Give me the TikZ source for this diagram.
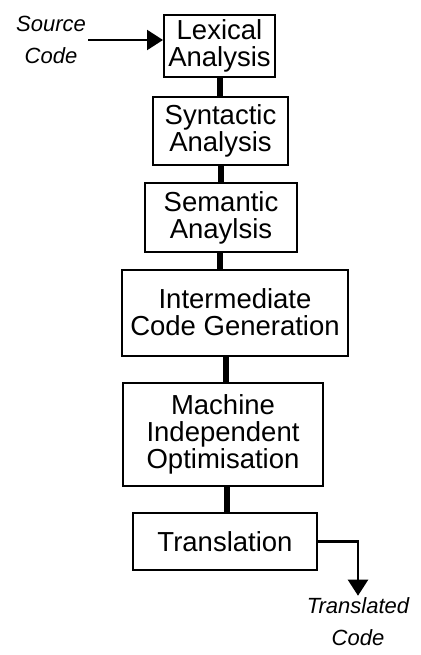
\documentclass[tikz,border=0pt]{standalone}
\usepackage{fontspec}
\setmainfont{Liberation Sans}
\usetikzlibrary{calc,arrows.meta}

\begin{document}
\begin{tikzpicture}[x=1pt,y=-1pt,
    stage/.style={draw, line width=2pt, align=center, inner sep=0pt,
      font=\fontsize{27.5}{27}\selectfont},
    bar/.style={line width=6pt},
    flow/.style={line width=2.2pt, -{Triangle[length=16pt,width=20pt]}},
    ext/.style={align=center, inner sep=2pt,
      font=\fontsize{22}{32}\selectfont\itshape}]
  \useasboundingbox (0,0) rectangle (420,655);

  % The phases, top to bottom
  \node[stage, minimum width=111pt, minimum height=62pt] (lex) at (219.5,46) {Lexical\\Analysis};
  \node[stage, minimum width=135pt, minimum height=68pt] (syn) at (220.5,131) {Syntactic\\Analysis};
  \node[stage, minimum width=152pt, minimum height=69pt] (sem) at (221,217.5) {Semantic\\Anaylsis};
  \node[stage, minimum width=226pt, minimum height=86pt] (inter) at (235,312.5) {Intermediate\\Code Generation};
  \node[stage, minimum width=200pt, minimum height=103pt] (mach) at (223,434.5) {Machine\\Independent\\Optimisation};
  \node[stage, minimum width=184pt, minimum height=57pt] (trans) at (225,541.5) {Translation};

  % Input and output
  \node[ext] (src) at (51,40) {Source\\Code};
  \node[ext] (out) at (358,622) {Translated\\Code};

  % Thick links between the phases
  \draw[bar] (lex.south) -- (lex.south |- syn.north);
  \draw[bar] (syn.south) -- (syn.south |- sem.north);
  \draw[bar] ([xshift=-1pt]sem.south) -- ([xshift=-1pt]sem.south |- inter.north);
  \draw[bar] ([xshift=3pt]mach.north) -- ([xshift=3pt]mach.north |- inter.south);
  \draw[bar] ([xshift=2pt]trans.north) -- ([xshift=2pt]trans.north |- mach.south);

  % Arrows in and out
  \draw[flow] (src.east) -- (src.east -| lex.west);
  \draw[flow] (trans.east) -| (out.north);
\end{tikzpicture}
\end{document}
